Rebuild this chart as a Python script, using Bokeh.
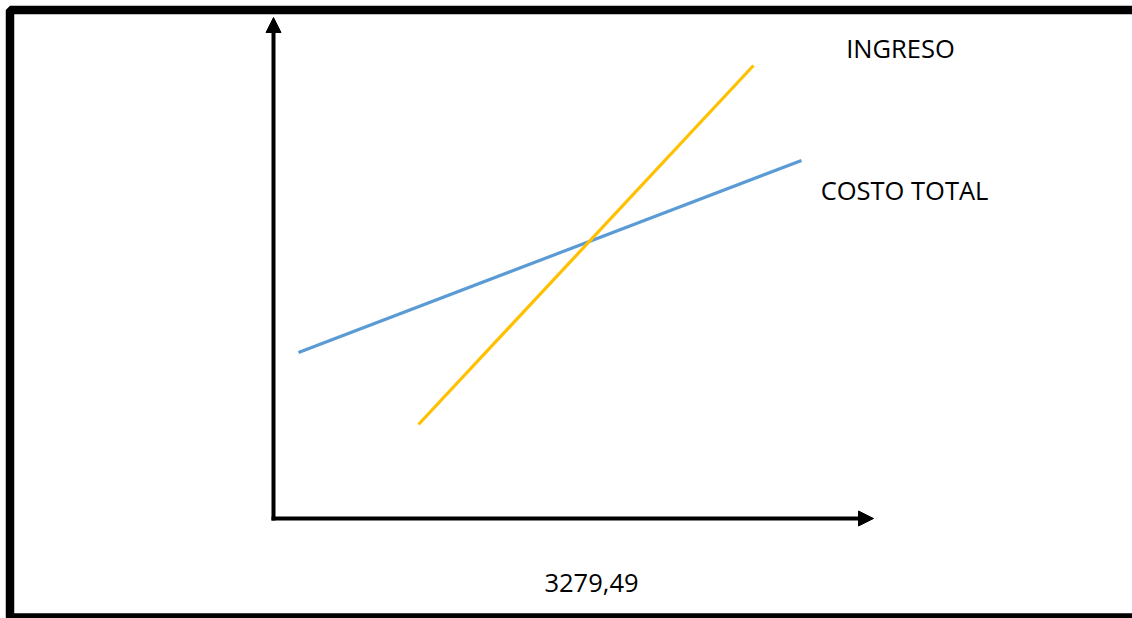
from bokeh.plotting import figure
from bokeh.models import Range1d, Arrow, NormalHead, BoxAnnotation, ColumnDataSource
from bokeh.core.properties import value
from bokeh.embed import file_html
from bokeh.resources import INLINE

# Data (units: quantity on x, value on y, arbitrary scale)
x_costo = [25, 528]
y_costo = [166, 358]
x_ingreso = [145, 480]
y_ingreso = [94, 453]
labels = ["INGRESO", "COSTO TOTAL"]
label_x = [627, 631]
label_y = [471, 329]
equilibrio_label = "3279,49"
equilibrio_x = 318

W, H = 1132, 618
p = figure(width=W, height=H, output_backend="svg", toolbar_location=None,
           x_range=Range1d(-273, 859), y_range=Range1d(-100, 518),
           x_axis_location=None, y_axis_location=None,
           min_border=0, min_border_left=0, min_border_right=0,
           min_border_top=0, min_border_bottom=0)
p.xgrid.visible = False
p.ygrid.visible = False
p.outline_line_color = None
p.background_fill_color = "white"
p.border_fill_color = "white"

# frame border (extends past the right edge)
p.add_layout(BoxAnnotation(left=-263.5, right=900, top=508.5, bottom=-99,
                           fill_color=None, fill_alpha=0, line_color="black",
                           line_alpha=1, line_width=8.5))

# axes with arrows
p.add_layout(Arrow(end=NormalHead(size=15, fill_color="black", line_color="black"),
                   x_start=0, y_start=-2, x_end=0, y_end=501,
                   line_color="black", line_width=4))
p.add_layout(Arrow(end=NormalHead(size=15, fill_color="black", line_color="black"),
                   x_start=-2, y_start=0, x_end=600, y_end=0,
                   line_color="black", line_width=4))

p.line(x_costo, y_costo, line_color="#5B9BD5", line_width=3.2)
p.line(x_ingreso, y_ingreso, line_color="#FFC000", line_width=3.2)

src = ColumnDataSource(dict(x=label_x, y=label_y, t=labels))
p.text(x="x", y="y", text="t", source=src, text_font=value("Open Sans"),
       text_font_size="25.5px", text_align="center", text_baseline="middle",
       text_color="black")
p.text(x=[equilibrio_x], y=[-64], text=[equilibrio_label], text_font=value("Open Sans"),
       text_font_size="25.5px", text_align="center", text_baseline="middle",
       text_color="black")

open("out.html", "w").write(file_html(p, INLINE))
